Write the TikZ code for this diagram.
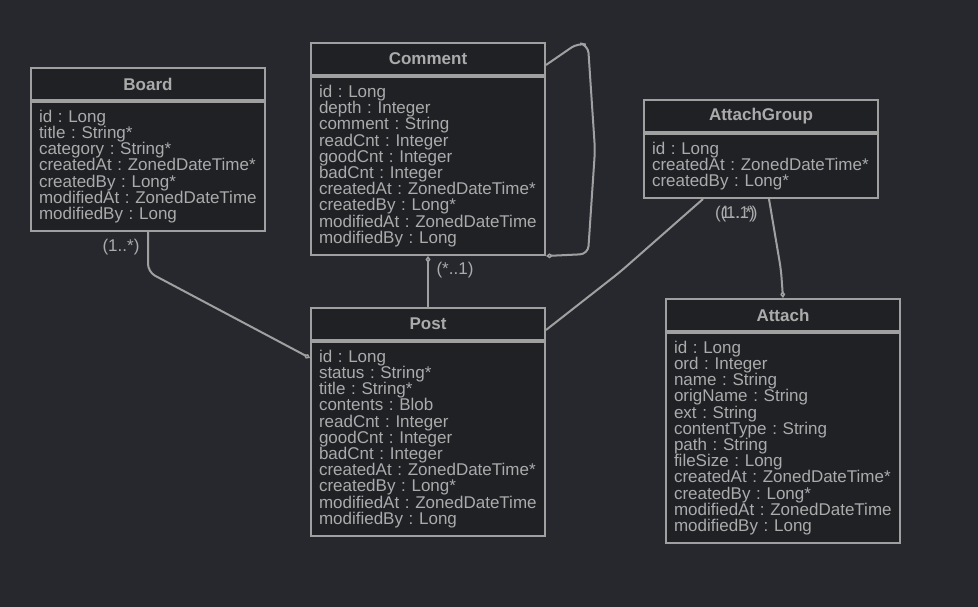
\documentclass[tikz,border=0pt]{standalone}
\usepackage{fontspec}
\setmainfont{Liberation Sans}
\usepackage{tikz}
\usetikzlibrary{arrows.meta,positioning,calc}
\definecolor{bg}{HTML}{26282E}
\definecolor{boxfill}{HTML}{1F2125}
\definecolor{edge}{HTML}{A0A0A0}
\definecolor{txt}{HTML}{ABABAB}
\frenchspacing
\newcommand{\umlfont}{\fontsize{17}{16.2}\selectfont}
\tikzstyle{head}=[draw=edge, fill=boxfill, line width=2pt, minimum width=234pt, minimum height=32pt, inner sep=0pt, text=txt, font=\bfseries\umlfont]
\tikzstyle{attrs}=[draw=edge, fill=boxfill, line width=2pt, text width=218pt, inner xsep=8pt, inner ysep=0pt, align=left, text=txt, font=\umlfont]
\tikzstyle{rel}=[draw=edge, line width=2pt, rounded corners=8pt]
\tikzstyle{mult}=[text=txt, font=\umlfont, inner sep=0pt]
\tikzset{agg/.tip={Diamond[open, length=7pt, width=5pt, line width=1.5pt]}}

\begin{document}
\begin{tikzpicture}[x=1pt, y=-1pt]
		\useasboundingbox[fill=bg] (0,0) rectangle (978,607);
		% classes
		\node[head, anchor=north west](Board)at(30,67){Board};
		\node[attrs, minimum height=129pt, below=0pt of Board](BoardA){id : Long\\title : String*\\category : String*\\createdAt : ZonedDateTime*\\createdBy : Long*\\modifiedAt : ZonedDateTime\\modifiedBy : Long};
		\node[head, anchor=north west](Comment)at(310,42){Comment};
		\node[attrs, minimum height=178pt, below=0pt of Comment](CommentA){id : Long\\depth : Integer\\comment : String\\readCnt : Integer\\goodCnt : Integer\\badCnt : Integer\\createdAt : ZonedDateTime*\\createdBy : Long*\\modifiedAt : ZonedDateTime\\modifiedBy : Long};
		\node[head, anchor=north west](Group)at(643,99){AttachGroup};
		\node[attrs, minimum height=64pt, below=0pt of Group](GroupA){id : Long\\createdAt : ZonedDateTime*\\createdBy : Long*};
		\node[head, anchor=north west](Post)at(310,307){Post};
		\node[attrs, minimum height=194pt, below=0pt of Post](PostA){id : Long\\status : String*\\title : String*\\contents : Blob\\readCnt : Integer\\goodCnt : Integer\\badCnt : Integer\\createdAt : ZonedDateTime*\\createdBy : Long*\\modifiedAt : ZonedDateTime\\modifiedBy : Long};
		\node[head, anchor=north west](Attach)at(665,298){Attach};
		\node[attrs, minimum height=210pt, below=0pt of Attach](AttachA){id : Long\\ord : Integer\\name : String\\origName : String\\ext : String\\contentType : String\\path : String\\fileSize : Long\\createdAt : ZonedDateTime*\\createdBy : Long*\\modifiedAt : ZonedDateTime\\modifiedBy : Long};
		% relations
		\draw[rel, -agg](BoardA.south)--(148,272)--($(PostA.north west)+(0,17)$);
		\draw[rel, agg-](CommentA.south)--(Post.north);
		\draw[rel, -agg]($(Comment.south east)+(0,-11)$)--(578,43)--(588,45)--(595,150)--(588,254)--(CommentA.south east);
		\draw[rel]($(GroupA.south west)+(60,0)$)--(620,272)--($(Post.north east)+(0,23)$);
		\draw[rel, -agg]($(GroupA.south west)+(126,0)$)--(781,270)--(Attach.north);
		% multiplicities
		\node[mult](m1)at(121,247){(1..*)};
		\node[mult](m2)at(455,270){(*..1)};
		\node[mult](m3)at(735,214){(1..1)};
		\node[mult](m4)at(739,214){(1..*)};
\end{tikzpicture}
\end{document}
